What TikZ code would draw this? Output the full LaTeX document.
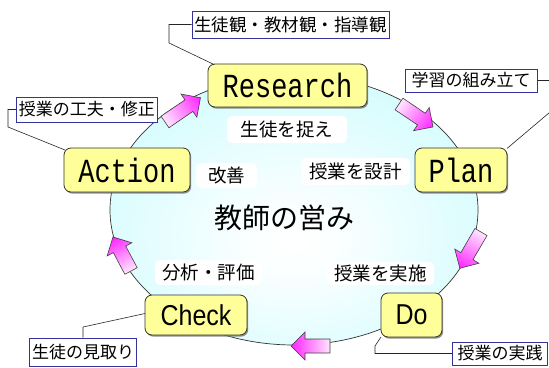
\documentclass[tikz,border=0pt]{standalone}
\usepackage{graphicx}
\usepackage{fontspec}
\setmainfont{Liberation Sans}
\newfontfamily\jp{Noto Sans CJK JP}
\newfontfamily\monof{Liberation Mono}
\usetikzlibrary{shadows}

\definecolor{boxyellow}{HTML}{FFFF99}
\definecolor{navy}{HTML}{333399}
\definecolor{ellcyan}{HTML}{C4FBFE}
\definecolor{arrowpale}{HTML}{FFE6FF}
\definecolor{arrowmag}{HTML}{FF22FF}

\pgfdeclareradialshading{ellshade}{\pgfpoint{0bp}{-6bp}}{color(0bp)=(white); color(6bp)=(white!92!ellcyan); color(40bp)=(ellcyan); color(80bp)=(ellcyan)}

\tikzset{
  phase/.style={draw=black!80, line width=0.8pt, fill=boxyellow, rounded corners=7pt,
    inner sep=0pt, drop shadow={shadow xshift=1.2pt, shadow yshift=-1.6pt, fill=black!55, opacity=0.8}},
  callout/.style={draw=navy, line width=0.8pt, fill=white, inner sep=0pt,
    font=\jp\fontsize{17}{17}\selectfont},
  inlabel/.style={fill=white, rounded corners=5pt, inner sep=0pt,
    font=\jp\fontsize{18.5}{18.5}\selectfont},
  leader/.style={draw=black!85, line width=0.6pt},
  barrow/.style={draw=black!75, line width=0.6pt, left color=arrowpale, right color=arrowmag},
}

\newcommand\blockarrow[3]{%
  \begin{scope}[transform canvas={shift={(#1)}, rotate=#2}]
    \draw[barrow] (0,7) -- ({#3-14},7) -- ({#3-14},14) -- (#3,0) -- ({#3-14},-14) -- ({#3-14},-7) -- (0,-7) -- cycle;
  \end{scope}}

\newcommand\monotext[1]{\monof\fontsize{27}{27}\selectfont\scalebox{1}[1.25]{#1}}
\newcommand\proptext[1]{\fontsize{25}{25}\selectfont\scalebox{1}[1.15]{#1}}

\begin{document}
\begin{tikzpicture}[x=1pt,y=1pt]
\useasboundingbox (0,0) rectangle (549,-367);

% cycle ellipse
\path[shading=ellshade] (294,-210) ellipse [x radius=184, y radius=135];
\draw[black!80, line width=0.7pt] (294,-210) ellipse [x radius=184, y radius=135];

% block arrows
\blockarrow{165,-122}{34.4}{43}
\blockarrow{399,-104}{-34}{41}
\blockarrow{481,-232}{-120.3}{42}
\blockarrow{330,-346}{180}{39}
\blockarrow{131,-271}{117.9}{38.5}

% phase boxes
\node[phase, minimum width=159pt, minimum height=43pt] (research) at (287.5,-85.5) {\monotext{Research}};
\node[phase, minimum width=92pt, minimum height=44pt] (plan) at (461,-170) {\monotext{Plan}};
\node[phase, minimum width=126pt, minimum height=44pt] (action) at (127,-170) {\monotext{Action}};
\node[phase, minimum width=102pt, minimum height=40pt] (check) at (196,-315) {\proptext{Check}};
\node[phase, minimum width=61pt, minimum height=44pt] (do) at (411.5,-315) {\proptext{Do}};

% inner labels
\node[inlabel, minimum width=120pt, minimum height=27pt] (l1) at (287,-129.5) {生徒を捉え};
\node[inlabel, minimum width=61pt, minimum height=25pt] (l2) at (226.5,-175.5) {改善};
\node[inlabel, minimum width=109pt, minimum height=27pt] (l3) at (355.5,-171.5) {授業を設計};
\node[inlabel, minimum width=107pt, minimum height=25pt] (l4) at (208.5,-272.5) {分析・評価};
\node[inlabel, minimum width=107pt, minimum height=23pt] (l5) at (380.5,-273.5) {授業を実施};
\node[font=\jp\fontsize{28}{28}\selectfont, inner sep=0pt] (core) at (284,-218) {教師の営み};

% callouts
\node[callout, minimum width=197pt, minimum height=27pt, font=\jp\fontsize{17.5}{17.5}\selectfont] (c1) at (290.5,-24.5) {生徒観・教材観・指導観};
\node[callout, minimum width=132pt, minimum height=23pt] (c2) at (471,-80.5) {学習の組み立て};
\node[callout, minimum width=141pt, minimum height=25pt] (c3) at (87,-109.5) {授業の工夫・修正};
\node[callout, minimum width=107pt, minimum height=28pt] (c4) at (83,-352) {生徒の見取り};
\node[callout, minimum width=95pt, minimum height=23pt] (c5) at (500,-353.5) {授業の実践};

% leader lines
\coordinate (r1) at (214,-64.5);
\coordinate (p1) at (507,-148.5);
\coordinate (a1) at (65,-150);
\coordinate (k1) at (145,-313.5);
\coordinate (d1) at (381,-337);
\draw[leader] (c1.west) -- (169,-24.5) -- (169,-43) -- (r1);
\draw[leader] (c2.east) -- (556,-80.5) -- (556,-107) -- (p1);
\draw[leader] (c3.west) -- (8,-109.5) -- (8,-127) -- (a1);
\draw[leader] (c4.north) -- (83,-327) -- (k1);
\draw[leader] (c5.west) -- (375,-353.5) -- (375,-346) -- (d1);
\end{tikzpicture}
\end{document}
